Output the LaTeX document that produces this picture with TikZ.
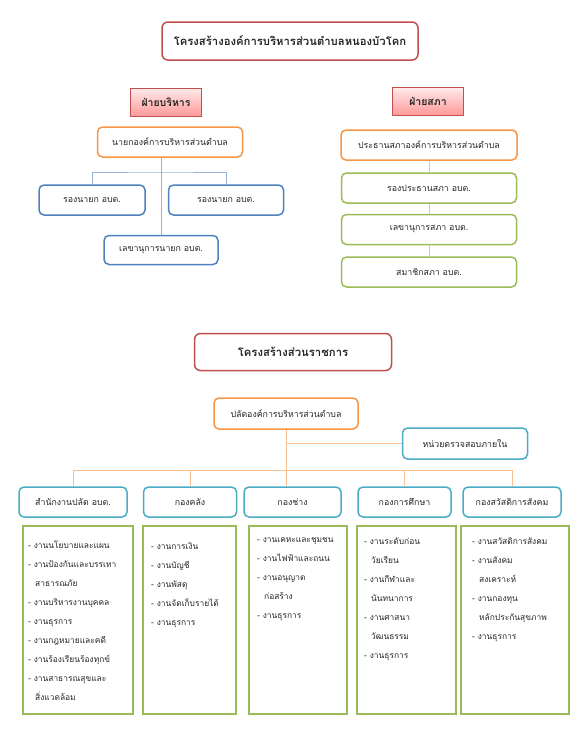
\documentclass[tikz,border=0pt]{standalone}
\usepackage{fontspec}
\setmainfont[Script=Thai]{Loma}
\usepackage{tikz}
\usetikzlibrary{positioning,calc}
\definecolor{titleRed}{HTML}{C0504D}
\definecolor{headOrange}{HTML}{F79646}
\definecolor{boxBlue}{HTML}{4F81BD}
\definecolor{boxTeal}{HTML}{4BACC6}
\definecolor{boxGreen}{HTML}{9BBB59}
\definecolor{lineBlue}{HTML}{95B3D7}
\definecolor{lineGreen}{HTML}{C3D69B}
\definecolor{lineOrange}{HTML}{FAC090}
\definecolor{txtDark}{HTML}{262626}
\newcommand{\listindent}{\hspace*{7pt}}

\begin{document}
\begin{tikzpicture}[x=1pt,y=-1pt,
    every node/.style={text=txtDark},
    titlebox/.style={draw=titleRed,line width=1.5pt,rounded corners=6pt,fill=white,
                     font=\fontsize{11.3}{14}\selectfont\bfseries},
    sidebox/.style={draw=titleRed,line width=0.6pt,top color=red!8,bottom color=red!40,
                    minimum width=71,minimum height=28,font=\fontsize{10.5}{12}\selectfont\bfseries},
    headbox/.style={draw=headOrange,line width=1.5pt,rounded corners=5pt,fill=white,
                    minimum height=30,font=\fontsize{8.8}{10}\selectfont},
    bluebox/.style={draw=boxBlue,line width=1.5pt,rounded corners=5pt,fill=white,
                    minimum height=30,font=\fontsize{8.8}{10}\selectfont},
    greenbox/.style={draw=boxGreen,line width=1.5pt,rounded corners=5pt,fill=white,
                     minimum width=175,minimum height=30,font=\fontsize{8.8}{10}\selectfont},
    tealbox/.style={draw=boxTeal,line width=1.5pt,rounded corners=5pt,fill=white,
                    minimum height=30,font=\fontsize{8.8}{10}\selectfont},
    listbox/.style={draw=boxGreen,line width=2pt,minimum height=188},
    listtext/.style={anchor=north west,inner sep=0pt,align=left,
                     font=\fontsize{8.4}{19}\selectfont},
    bline/.style={lineBlue,line width=0.8pt},
    gline/.style={lineGreen,line width=0.8pt},
    oline/.style={lineOrange,line width=0.8pt}
  ]
  \useasboundingbox (0,0) rectangle (578,736);
  %% Upper title
  \node[titlebox,minimum width=256,minimum height=38] (title1) at (290,41)
    {โครงสร้างองค์การบริหารส่วนตำบลหนองบัวโคก};
  %% Executive side
  \node[sidebox] (exec) at (166,102) {ฝ่ายบริหาร};
  \node[headbox,minimum width=145] (mayor) at (170,142) {นายกองค์การบริหารส่วนตำบล};
  \node[bluebox,minimum width=106] (vice1) at (92,200) {รองนายก อบต.};
  \node[bluebox,minimum width=115] (vice2) at (226,200) {รองนายก อบต.};
  \node[bluebox,minimum width=114,minimum height=29] (msec) at (161,250) {เลขานุการนายก อบต.};
  \coordinate (jn1) at (161,172);
  \draw[bline] (msec.north) -- (msec.north |- mayor.south);
  \draw[bline] (vice1.north) |- (jn1) -| (vice2.north);
  %% Council side
  \node[sidebox] (council) at (428,101) {ฝ่ายสภา};
  \node[headbox,minimum width=176] (chair) at (429,145) {ประธานสภาองค์การบริหารส่วนตำบล};
  \node[greenbox] (vchair) at (429,188) {รองประธานสภา อบต.};
  \node[greenbox] (csec) at (429,229.5) {เลขานุการสภา อบต.};
  \node[greenbox] (member) at (429,272) {สมาชิกสภา อบต.};
  \draw[gline] (chair) -- (vchair);
  \draw[gline] (vchair) -- (csec);
  \draw[gline] (csec) -- (member);
  %% Lower title
  \node[titlebox,minimum width=197,minimum height=37] (title2) at (293,352)
    {โครงสร้างส่วนราชการ};
  %% Permanent secretary and audit
  \node[headbox,minimum width=144,minimum height=31] (palat) at (286,413.5)
    {ปลัดองค์การบริหารส่วนตำบล};
  \node[tealbox,minimum width=125,minimum height=31] (audit) at (465,443.5) {หน่วยตรวจสอบภายใน};
  %% Divisions
  \node[tealbox,minimum width=108] (d1) at (73,502) {สำนักงานปลัด อบต.};
  \node[tealbox,minimum width=93] (d2) at (190,502) {กองคลัง};
  \node[tealbox,minimum width=97] (d3) at (292.5,502) {กองช่าง};
  \node[tealbox,minimum width=93] (d4) at (404.5,502) {กองการศึกษา};
  \node[tealbox,minimum width=98] (d5) at (512,502) {กองสวัสดิการสังคม};
  \coordinate (br) at (0,470);
  \draw[oline] (palat.south) -- (palat.south |- d3.north);
  \draw[oline] (palat.south |- audit.west) -- (audit.west);
  \draw[oline] (d1.north) |- (d5.north |- br) -- (d5.north);
  \draw[oline] (d2.north) -- (d2.north |- br);
  \draw[oline] (d4.north) -- (d4.north |- br);
  %% Task lists
  \node[listbox,minimum width=110] (l1) at (78,620) {};
  \node[listbox,minimum width=93] (l2) at (189.5,620) {};
  \node[listbox,minimum width=98] (l3) at (298,620) {};
  \node[listbox,minimum width=99] (l4) at (406.5,620) {};
  \node[listbox,minimum width=108] (l5) at (515,620) {};
  \node[listtext] (t1) at ($(l1.north west)+(6,16)$)
    {- งานนโยบายและแผน\\- งานป้องกันและบรรเทา\\\listindent สาธารณภัย\\- งานบริหารงานบุคคล\\- งานธุรการ\\- งานกฎหมายและคดี\\- งานร้องเรียนร้องทุกข์\\- งานสาธารณสุขและ\\\listindent สิ่งแวดล้อม};
  \node[listtext] (t2) at ($(l2.north west)+(9,18)$)
    {- งานการเงิน\\- งานบัญชี\\- งานพัสดุ\\- งานจัดเก็บรายได้\\- งานธุรการ};
  \node[listtext] (t3) at ($(l3.north west)+(9,12)$)
    {- งานเคหะและชุมชน\\- งานไฟฟ้าและถนน\\- งานอนุญาต\\\listindent ก่อสร้าง\\- งานธุรการ};
  \node[listtext] (t4) at ($(l4.north west)+(8,13)$)
    {- งานระดับก่อน\\\listindent วัยเรียน\\- งานกีฬาและ\\\listindent นันทนาการ\\- งานศาสนา\\\listindent วัฒนธรรม\\- งานธุรการ};
  \node[listtext] (t5) at ($(l5.north west)+(12,13)$)
    {- งานสวัสดิการสังคม\\- งานสังคม\\\listindent สงเคราะห์\\- งานกองทุน\\\listindent หลักประกันสุขภาพ\\- งานธุรการ};
\end{tikzpicture}
\end{document}
